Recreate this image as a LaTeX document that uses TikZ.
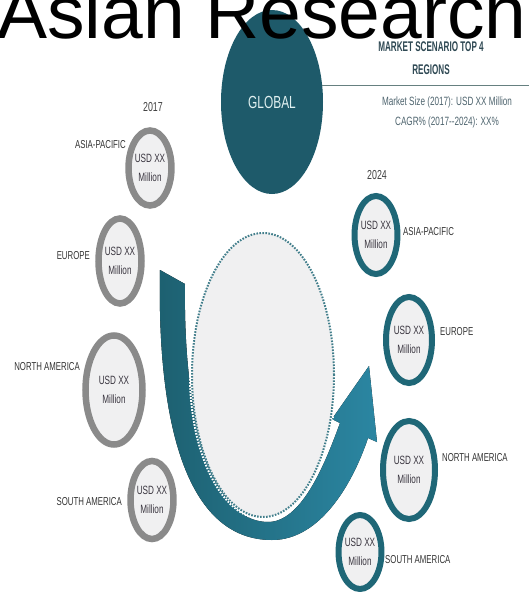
\documentclass[tikz,border=0pt]{standalone}
\usepackage{fontspec}
\setmainfont{Liberation Sans}
\newfontfamily\narrow[FakeStretch=0.68]{Liberation Sans}
\newfontfamily\tight[FakeStretch=0.58]{Liberation Sans}
\usepackage{xcolor}
\usepackage{tikz}
\usetikzlibrary{shapes.geometric,positioning}

\definecolor{globalteal}{HTML}{1E5A6A}
\definecolor{ringteal}{HTML}{1F6777}
\definecolor{arrowdark}{HTML}{1D6070}
\definecolor{arrowlight}{HTML}{2B86A2}
\definecolor{ringgray}{HTML}{8A8A8A}
\definecolor{disc}{HTML}{F0F0F1}
\definecolor{inktext}{HTML}{3A3640}
\definecolor{slate}{HTML}{2E4853}

\begin{document}
\begin{tikzpicture}[
    x=1pt, y=-1pt,
    old/.style={ellipse, draw=ringgray, line width=6.5pt, fill=disc, align=center, inner sep=0pt, text=inktext, font=\narrow\fontsize{12}{19}\selectfont},
    new/.style={ellipse, draw=ringteal, line width=6pt, fill=disc, align=center, inner sep=0pt, text=inktext, font=\narrow\fontsize{12}{19}\selectfont},
    region/.style={inner sep=0pt, text=black!80, font=\narrow\fontsize{11.5}{13}\selectfont},
    year/.style={inner sep=0pt, text=black!75, font=\narrow\fontsize{13}{15}\selectfont},
    ruleline/.style={draw=gray!80!teal, line width=1.2pt}
]
\useasboundingbox (0,0) rectangle (529,592);
\clip (0,0) rectangle (529,592);
\coordinate (edge) at (529,0);

% global disc with the summary on its right
\node[ellipse, fill=globalteal, minimum width=102pt, minimum height=184pt, text=white!88!teal, font=\narrow\fontsize{17.5}{17}\selectfont] (global) at (272,102) {GLOBAL};
\draw[ruleline] (global.18) -- (global.18 -| edge);
\node[font=\tight\bfseries\fontsize{14}{23}\selectfont, text=slate, align=center, inner sep=0pt] (scenario) at (431,58) {MARKET SCENARIO TOP 4\\REGIONS};
\node[font=\narrow\fontsize{12}{20}\selectfont, text=slate!85, align=center, inner sep=0pt] (figures) at (447,112) {Market Size (2017): USD XX Million\\CAGR\% (2017--2024): XX\%};

\node[anchor=base west, inner sep=0pt, font=\fontsize{75}{75}\selectfont] (banner) at (-3,38) {Asian Research};

% growth arrow round the centre disc
\fill[left color=arrowdark, right color=arrowlight]
    (160,270) .. controls (157,420) and (185,540) .. (272,540)
    .. controls (322,540) and (354,480) .. (368,438)
    -- (377,442) -- (369,366) -- (332,419) -- (340,423)
    .. controls (323,470) and (300,522) .. (268,522)
    .. controls (212,522) and (183,420) .. (185,284) -- cycle;
\node[ellipse, fill=disc, minimum width=142pt, minimum height=284pt,
    preaction={draw=white, line width=6pt},
    draw=ringteal!85, line width=2pt, dash pattern=on 1.6pt off 1.4pt] (hub) at (263,375) {};

% 2017
\node[year] (y17) at (153,107) {2017};
\node[old, minimum width=37pt, minimum height=75pt] (ap17) at (150,168) {USD XX\\Million};
\node[old, minimum width=43pt, minimum height=85pt] (eu17) at (120,261) {USD XX\\Million};
\node[old, minimum width=57pt, minimum height=109pt] (na17) at (114,390) {USD XX\\Million};
\node[old, minimum width=38pt, minimum height=78pt] (sa17) at (152,500) {USD XX\\Million};
\node[region, anchor=east] (apL) at (126,145) {ASIA-PACIFIC};
\node[region, anchor=east] (euL) at (90,256) {EUROPE};
\node[region, anchor=east] (naL) at (80,367) {NORTH AMERICA};
\node[region, anchor=east] (saL) at (122,502) {SOUTH AMERICA};

% 2024
\node[year] (y24) at (377,175) {2024};
\node[new, minimum width=42pt, minimum height=78pt] (ap24) at (376,235) {USD XX\\Million};
\node[new, minimum width=46pt, minimum height=86pt] (eu24) at (409,340) {USD XX\\Million};
\node[new, minimum width=52pt, minimum height=98pt] (na24) at (409,470) {USD XX\\Million};
\node[new, minimum width=40pt, minimum height=74pt] (sa24) at (360,552) {USD XX\\Million};
\node[region, anchor=west] (apR) at (403,232) {ASIA-PACIFIC};
\node[region, anchor=west] (euR) at (440,332) {EUROPE};
\node[region, anchor=west] (naR) at (442,458) {NORTH AMERICA};
\node[region, anchor=west] (saR) at (385,560) {SOUTH AMERICA};
\end{tikzpicture}
\end{document}
